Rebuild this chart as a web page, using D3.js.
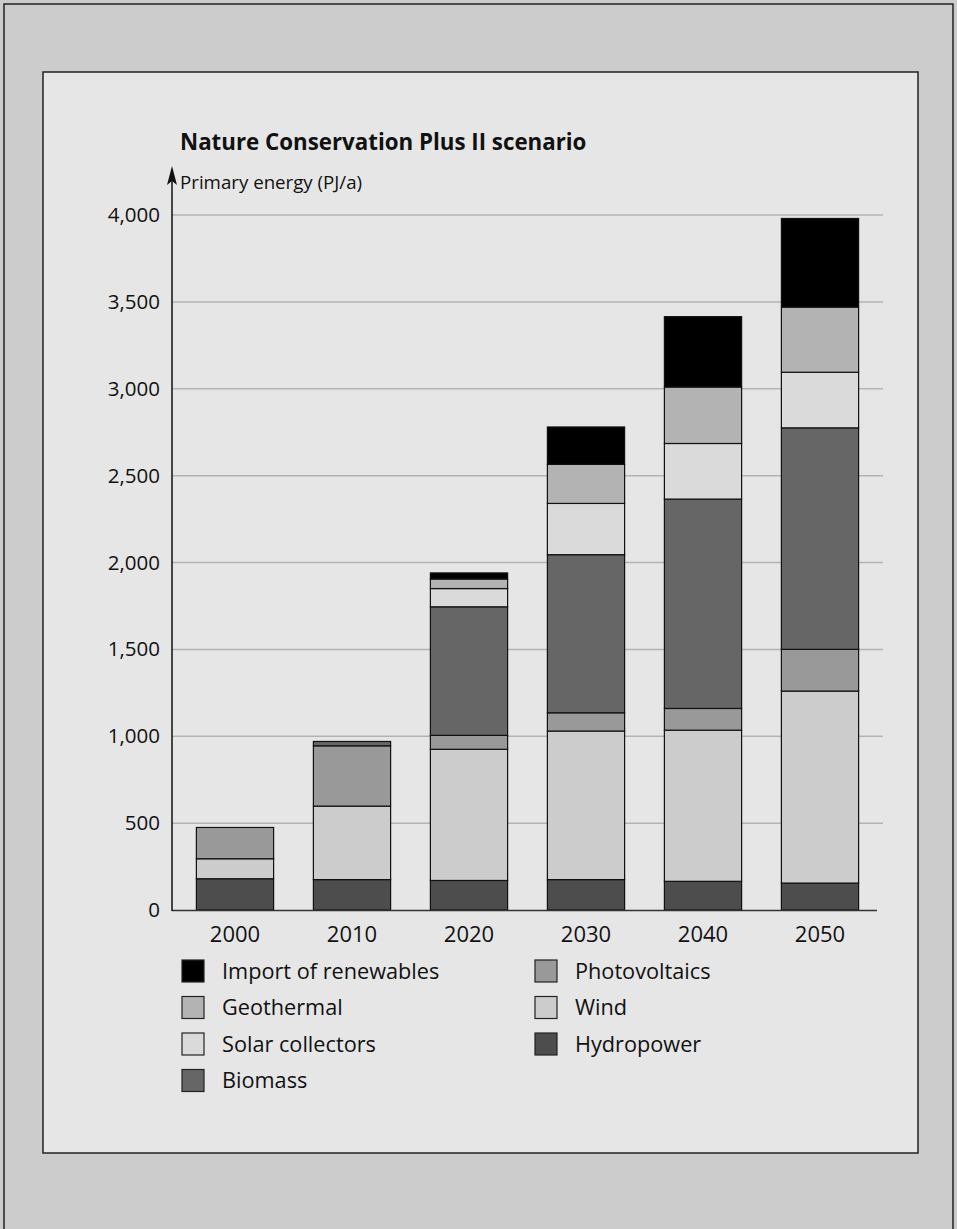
<!DOCTYPE html>
<html><head><meta charset="utf-8">
<script src="https://cdn.jsdelivr.net/npm/d3@7"></script>
<style>body{margin:0;background:#ccc;}svg{display:block;font-family:"Open Sans","Noto Sans",sans-serif;}</style>
</head><body><svg id="c" width="957" height="1229"></svg>
<script>
const years = ["2000","2010","2020","2030","2040","2050"];
const seriesNames = ["Hydropower","Wind","Photovoltaics","Biomass","Solar collectors","Geothermal","Import of renewables"];
const hydropower = [180,175,170,175,165,155];
const wind = [115,423,755,855,870,1105];
const photovoltaics = [180,347,80,105,125,240];
const biomass = [0,25,740,910,1205,1275];
const solarCollectors = [0,0,105,295,320,320];
const geothermal = [0,0,55,225,325,375];
const importRenew = [0,0,35,215,405,510];
const yTicks = [0,500,1000,1500,2000,2500,3000,3500,4000];
const colors = {"Hydropower":"#4d4d4d","Wind":"#cccccc","Photovoltaics":"#999999","Biomass":"#666666","Solar collectors":"#dadada","Geothermal":"#b3b3b3","Import of renewables":"#000000"};
const legendOrder = [["Import of renewables","Photovoltaics"],["Geothermal","Wind"],["Solar collectors","Hydropower"],["Biomass",null]];
const title = "Nature Conservation Plus II scenario";
const yLabel = "Primary energy (PJ/a)";

const svg = d3.select("#c");
svg.append("rect").attr("x",4).attr("y",4).attr("width",949).attr("height",1240).attr("fill","#cccccc").attr("stroke","#222").attr("stroke-width",1.5);
svg.append("rect").attr("x",43).attr("y",72).attr("width",875).attr("height",1081).attr("fill","#e6e6e6").attr("stroke","#222").attr("stroke-width",1.5);

const table = years.map((y,i)=>({year:y,"Hydropower":hydropower[i],"Wind":wind[i],"Photovoltaics":photovoltaics[i],"Biomass":biomass[i],"Solar collectors":solarCollectors[i],"Geothermal":geothermal[i],"Import of renewables":importRenew[i]}));
const stack = d3.stack().keys(seriesNames)(table);

const x = d3.scaleBand().domain(years).range([176.5,878.5]).paddingInner(0.34).paddingOuter(0.17);
const y = d3.scaleLinear().domain([0,4000]).range([910,215]);

svg.append("g").selectAll("line").data(yTicks.filter(d=>d>0)).join("line")
 .attr("x1",172).attr("x2",883).attr("y1",d=>y(d)).attr("y2",d=>y(d))
 .attr("stroke","#b3b3b3").attr("stroke-width",1.5);

const yAxis = d3.axisLeft(y).tickValues(yTicks).tickFormat(d3.format(",")).tickSize(0).tickPadding(12);
const gy = svg.append("g").attr("transform","translate(172,0)").call(yAxis);
gy.select(".domain").remove();
gy.selectAll("text").attr("font-size",20.5).attr("fill","#111").attr("font-family","Open Sans");

svg.append("g").selectAll("g").data(stack).join("g")
 .attr("fill",d=>colors[d.key])
 .selectAll("rect").data(d=>d.filter(e=>e[1]-e[0]>0)).join("rect")
 .attr("x",d=>x(d.data.year)).attr("width",x.bandwidth())
 .attr("y",d=>y(d[1])).attr("height",d=>y(d[0])-y(d[1]))
 .attr("stroke","#111").attr("stroke-width",1.2);

const xAxis = d3.axisBottom(x).tickSize(0).tickPadding(16);
const gx = svg.append("g").attr("transform","translate(0,910)").call(xAxis);
gx.select(".domain").remove();
gx.selectAll("text").attr("font-size",22).attr("fill","#111").attr("font-family","Open Sans");
svg.append("line").attr("x1",172).attr("x2",877).attr("y1",910.5).attr("y2",910.5).attr("stroke","#333").attr("stroke-width",1.5);

svg.append("line").attr("x1",172).attr("x2",172).attr("y1",911).attr("y2",180).attr("stroke","#111").attr("stroke-width",1.5);
svg.append("path").attr("d","M172,166 L177,185 L172,181 L167,185 Z").attr("fill","#111");

svg.append("text").attr("x",180).attr("y",150).attr("font-size",22.3).attr("font-weight","bold").attr("fill","#111").text(title);
svg.append("text").attr("x",180).attr("y",189).attr("font-size",18.7).attr("fill","#111").text(yLabel);

const lg = svg.append("g");
legendOrder.forEach((row,r)=>{
  row.forEach((name,c)=>{
    if(!name) return;
    const lx = c===0?182:535, ly = 960 + r*36.5;
    lg.append("rect").attr("x",lx).attr("y",ly).attr("width",22).attr("height",22).attr("fill",colors[name]).attr("stroke","#222").attr("stroke-width",1.2);
    lg.append("text").attr("x",lx+40).attr("y",ly+11).attr("dy","0.35em").attr("font-size",21.7).attr("fill","#111").text(name);
  });
});
</script></body></html>
